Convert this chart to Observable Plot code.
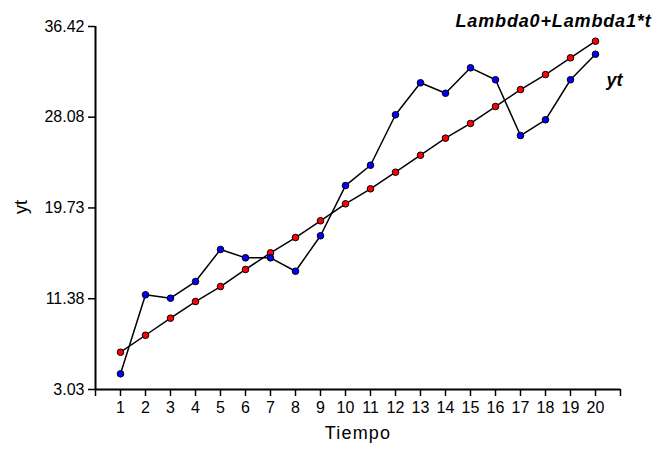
<!DOCTYPE html>
<html>
<head>
<meta charset="utf-8">
<script src="https://cdn.jsdelivr.net/npm/d3@7"></script>
<script src="https://cdn.jsdelivr.net/npm/@observablehq/plot@0.6"></script>
<style>
  html, body { margin: 0; padding: 0; background: #fff; }
  #chart svg { display: block; }
</style>
</head>
<body>
<div id="chart"></div>
<script>
const tiempo = [1,2,3,4,5,6,7,8,9,10,11,12,13,14,15,16,17,18,19,20];
const yt = [4.47,11.74,11.43,12.96,15.91,15.14,15.14,13.91,17.17,21.79,23.66,28.30,31.24,30.28,32.62,31.52,26.39,27.84,31.52,33.87];
const ajuste = [6.46,8.02,9.59,11.12,12.50,14.07,15.60,17.01,18.55,20.11,21.49,23.02,24.58,26.15,27.50,29.06,30.62,32.00,33.54,35.07];
const yTicks = [3.03, 11.38, 19.73, 28.08, 36.42];
const xTicks = d3.range(0, 22);
const serieLabels = ["Lambda0+Lambda1*t", "yt"];

const fitData = tiempo.map((t, i) => ({t, v: ajuste[i]}));
const ytData = tiempo.map((t, i) => ({t, v: yt[i]}));
const n = tiempo.length - 1;

const font = "'Liberation Sans', Arial, sans-serif";

const chart = Plot.plot({
  width: 663,
  height: 450,
  marginLeft: 95,
  marginRight: 43,
  marginTop: 26,
  marginBottom: 61,
  style: {fontFamily: font, fontSize: "16px", color: "#000", background: "#fff", overflow: "visible"},
  x: {domain: [0, 21]},
  y: {domain: [3.03, 36.42]},
  marks: [
    Plot.axisY({ticks: yTicks, tickFormat: d => d.toFixed(2), tickSize: 7, tickPadding: 4, strokeWidth: 1.5, label: null, fontSize: 16}),
    Plot.axisX({ticks: xTicks, tickFormat: d => (d >= 1 && d <= 20) ? String(d) : "", tickSize: 7, tickPadding: 5, strokeWidth: 1.5, label: null, fontSize: 16}),
    Plot.ruleY([3.03], {stroke: "#000", strokeWidth: 2}),
    Plot.ruleX([0], {stroke: "#000", strokeWidth: 2}),
    Plot.line(fitData, {x: "t", y: "v", stroke: "#000", strokeWidth: 1.5}),
    Plot.line(ytData, {x: "t", y: "v", stroke: "#000", strokeWidth: 1.5}),
    Plot.dot(fitData, {x: "t", y: "v", r: 3.3, fill: "#ff0000", stroke: "#000", strokeWidth: 1}),
    Plot.dot(ytData, {x: "t", y: "v", r: 3.3, fill: "#0000ff", stroke: "#000", strokeWidth: 1}),
    Plot.text([fitData[n]], {x: "t", y: "v", text: () => serieLabels[0], textAnchor: "end", dx: 56, dy: -20, fontSize: 18, fontWeight: "bold", fontStyle: "italic", fill: "#000"}),
    Plot.text([ytData[n]], {x: "t", y: "v", text: () => serieLabels[1], textAnchor: "start", dx: 11, dy: 26, fontSize: 18, fontWeight: "bold", fontStyle: "italic", fill: "#000"}),
    Plot.text(["Tiempo"], {frameAnchor: "bottom", dy: 49, fontSize: 18, fill: "#000"}),
    Plot.text(["yt"], {frameAnchor: "left", dx: -74, dy: 6, rotate: -90, fontSize: 18, fill: "#000"})
  ]
});
d3.select(chart).selectAll("text").each(function() {
  const t = this.textContent;
  if (t === serieLabels[0]) this.setAttribute("letter-spacing", "0.85");
  else if (t === "Tiempo") this.setAttribute("letter-spacing", "1.2");
});
document.getElementById("chart").appendChild(chart);
</script>
</body>
</html>
